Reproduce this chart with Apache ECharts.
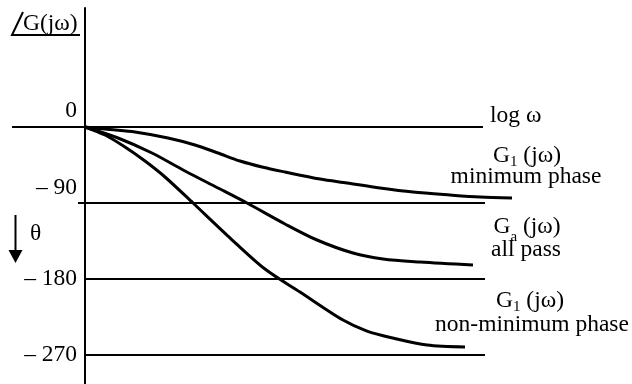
<!DOCTYPE html>
<html>
<head>
<meta charset="utf-8">
<script src="https://cdn.jsdelivr.net/npm/echarts@6/dist/echarts.min.js"></script>
<style>
html, body { margin: 0; padding: 0; background: #fff; }
#main { width: 632px; height: 384px; }
</style>
</head>
<body>
<div id="main"></div>
<script>
//----------- Data (x = log ω in arbitrary units, 0 at the phase axis; y = phase in degrees)
const minPhaseX = [0, 0.25, 0.50, 0.83, 1.10, 1.33, 1.55, 1.77, 2.00, 2.35, 2.62, 2.95, 3.28, 3.65, 3.95, 4.27];
const minPhaseY = [0, -3.0, -5.9, -13.0, -21.3, -30.8, -40.3, -47.4, -53.3, -61.6, -66.3, -72.2, -77.0, -80.5, -82.9, -84.1];

const allPassX = [0, 0.33, 0.67, 1.00, 1.33, 1.62, 2.00, 2.32, 2.68, 2.98, 3.35, 3.88];
const allPassY = [0, -13.0, -30.8, -52.1, -72.2, -90, -114.8, -133.8, -149.2, -156.3, -159.9, -163.4];

const nonMinX = [0, 0.20, 0.40, 0.60, 0.80, 1.08, 1.43, 1.80, 2.15, 2.58, 2.82, 3.08, 3.42, 3.80];
const nonMinY = [0, -9.5, -23.7, -40.3, -59.2, -90, -129.1, -168.2, -195.4, -228.6, -241.6, -249.9, -258.2, -260.5];

//Reference levels (phase ticks) and how far each line runs along log ω
const levelValues = [0, -90, -180, -270];
const levelText = ["0", "– 90", "– 180", "– 270"];
const levelStart = [-0.73, -0.07, 0, 0];
const levelEnd = [3.98, 4.0, 4.0, 4.0];
//----------- Data

const serif = '"Liberation Serif", "DejaVu Serif", serif';
const fs = 23.5;

const zip = (xs, ys) => xs.map((x, i) => [x, ys[i]]);

const myChart = echarts.init(document.getElementById("main"), null, {renderer: "canvas"});

const curveStyle = {color: "#000", width: 3};

//the 0 and -90 labels sit above their lines, the others are centred on them
const labelLift = [-16, -15, 0, 0];

const option = {
    animation: false,
    backgroundColor: "#fff",
    grid: {left: 0, right: 0, top: 8, bottom: 0, outerBoundsMode: "none"},
    xAxis: {
        type: "value",
        min: -0.85,
        max: 5.47,
        show: false
    },
    yAxis: {
        type: "value",
        min: -304.3,
        max: 140.9,
        axisLine: {show: true, onZero: true, lineStyle: {color: "#000", width: 2}},
        axisTick: {show: false},
        splitLine: {show: false},
        axisLabel: {show: false}
    },
    series: [
        {
            name: "minimum phase",
            type: "line",
            smooth: 0.3,
            showSymbol: false,
            lineStyle: curveStyle,
            data: zip(minPhaseX, minPhaseY),
            markLine: {
                silent: true,
                symbol: ["none", "none"],
                label: {show: false},
                lineStyle: {color: "#000", width: 2, type: "solid"},
                data: levelValues.map((v, i) => [{coord: [levelStart[i], v]}, {coord: [levelEnd[i], v]}])
            },
            //tick labels of the phase axis
            markPoint: {
                silent: true,
                symbol: "circle",
                symbolSize: 0,
                itemStyle: {color: "rgba(0,0,0,0)"},
                label: {
                    show: true,
                    position: "left",
                    distance: 8,
                    color: "#000",
                    fontFamily: serif,
                    fontSize: fs
                },
                data: levelValues.map((v, i) => ({
                    coord: [0, v],
                    value: v,
                    label: {formatter: levelText[i], offset: [0, labelLift[i]]}
                }))
            }
        },
        {
            name: "all pass",
            type: "line",
            smooth: 0.3,
            showSymbol: false,
            lineStyle: curveStyle,
            data: zip(allPassX, allPassY)
        },
        {
            name: "non-minimum phase",
            type: "line",
            smooth: 0.3,
            showSymbol: false,
            lineStyle: curveStyle,
            data: zip(nonMinX, nonMinY)
        }
    ],
    graphic: [
        //angle sign over G(jω)
        {type: "polyline", shape: {points: [[23, 12], [12, 35], [80, 35]]}, style: {stroke: "#000", lineWidth: 2, fill: null}},
        {type: "text", x: 23, y: 24, style: {text: "G(jω)", font: `${fs}px ${serif}`, fill: "#000", align: "left", verticalAlign: "middle"}},
        //θ arrow
        {type: "line", shape: {x1: 15.5, y1: 215, x2: 15.5, y2: 252}, style: {stroke: "#000", lineWidth: 2}},
        {type: "polygon", shape: {points: [[8.5, 250], [22.5, 250], [15.5, 263]]}, style: {fill: "#000"}},
        {type: "text", x: 30, y: 234, style: {text: "θ", font: `${fs}px ${serif}`, fill: "#000", align: "left", verticalAlign: "middle"}},
        //right annotations
        {type: "text", x: 490, y: 116, style: {text: "log ω", font: `${fs}px ${serif}`, fill: "#000", align: "left", verticalAlign: "middle"}},
        {type: "text", x: 527, y: 156, style: {
            text: "{g|G}{s|1}{g| (jω)}", align: "center", verticalAlign: "middle",
            rich: {g: {fontFamily: serif, fontSize: fs, fill: "#000"}, s: {fontFamily: serif, fontSize: 15, fill: "#000", padding: [12, 0, 0, 0]}}
        }},
        {type: "text", x: 526, y: 177, style: {text: "minimum phase", font: `${fs}px ${serif}`, fill: "#000", align: "center", verticalAlign: "middle"}},
        {type: "text", x: 527, y: 227, style: {
            text: "{g|G}{s|a}{g| (jω)}", align: "center", verticalAlign: "middle",
            rich: {g: {fontFamily: serif, fontSize: fs, fill: "#000"}, s: {fontFamily: serif, fontSize: 15, fill: "#000", padding: [20, 0, 0, 0]}}
        }},
        {type: "text", x: 526, y: 250, style: {text: "all pass", font: `${fs}px ${serif}`, fill: "#000", align: "center", verticalAlign: "middle"}},
        {type: "text", x: 530, y: 301, style: {
            text: "{g|G}{s|1}{g| (jω)}", align: "center", verticalAlign: "middle",
            rich: {g: {fontFamily: serif, fontSize: fs, fill: "#000"}, s: {fontFamily: serif, fontSize: 15, fill: "#000", padding: [12, 0, 0, 0]}}
        }},
        {type: "text", x: 532, y: 325, style: {text: "non-minimum phase", font: `${fs}px ${serif}`, fill: "#000", align: "center", verticalAlign: "middle"}}
    ]
};

myChart.setOption(option);
</script>
</body>
</html>
